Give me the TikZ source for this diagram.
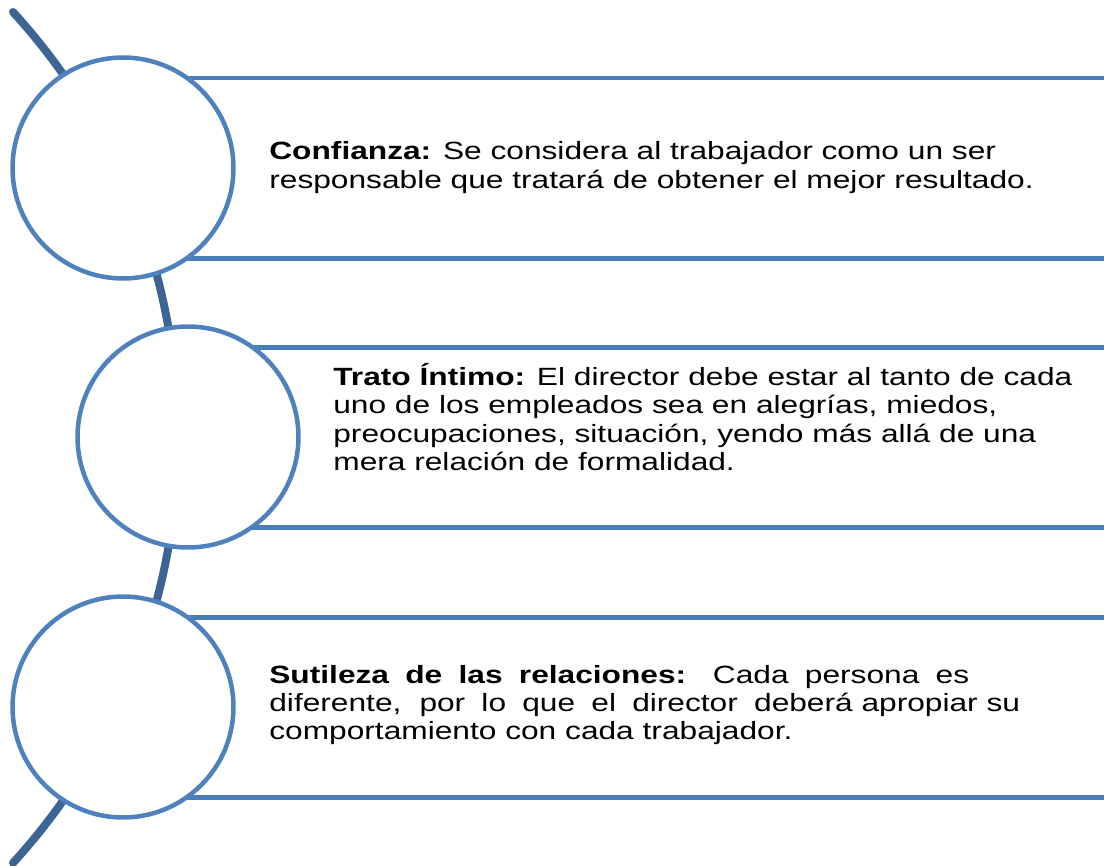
\documentclass[tikz,border=0pt]{standalone}
\usepackage{fontspec}
\setmainfont[FakeStretch=1.27]{Liberation Sans}
\definecolor{circblue}{HTML}{4F81BD}
\definecolor{bandblue}{HTML}{4A7EBB}
\definecolor{arcblue}{HTML}{3C6494}
\begin{document}
\begin{tikzpicture}[x=0.02cm, y=0.02cm,
	bubble/.style={circle, draw=circblue, line width=0.09cm, fill=white, minimum size=4.42cm, inner sep=0pt},
	band/.style={draw=bandblue, line width=0.1cm},
	desc/.style={anchor=base west, align=left, inner sep=0pt, font=\fontsize{14.2pt}{15.94pt}\selectfont}]
    \useasboundingbox (0,0) rectangle (1104,-865);

    \draw[arcblue, line width=0.16cm, line cap=round] (13,-12) arc[start angle=42.4, end angle=-42.4, radius=631];

    \draw[band] (123,-78) -- (1104,-78);
    \draw[band] (123,-258) -- (1104,-258);
    \node[bubble] (c1) at (123,-168) {};
    \node[desc] (t1) at (269,-188) {\textbf{Confianza:} Se considera al trabajador como un ser\\responsable que tratará de obtener el mejor resultado.};

    \draw[band] (188,-347) -- (1104,-347);
    \draw[band] (188,-527) -- (1104,-527);
    \node[bubble] (c2) at (188,-437) {};
    \node[desc] (t2) at (333,-470) {\textbf{Trato Íntimo:} El director debe estar al tanto de cada\\uno de los empleados sea en alegrías, miedos,\\preocupaciones, situación, yendo más allá de una\\mera relación de formalidad.};

    \draw[band] (123,-617) -- (1104,-617);
    \draw[band] (123,-797) -- (1104,-797);
    \node[bubble] (c3) at (123,-707) {};
    \node[desc] (t3) at (269,-739) {\makebox[14cm][s]{\textbf{Sutileza de las relaciones:} Cada persona es}\\\makebox[15.02cm][s]{diferente, por lo que el director deberá\mbox{ apropiar su}}\\comportamiento con cada trabajador.};
\end{tikzpicture}
\end{document}
